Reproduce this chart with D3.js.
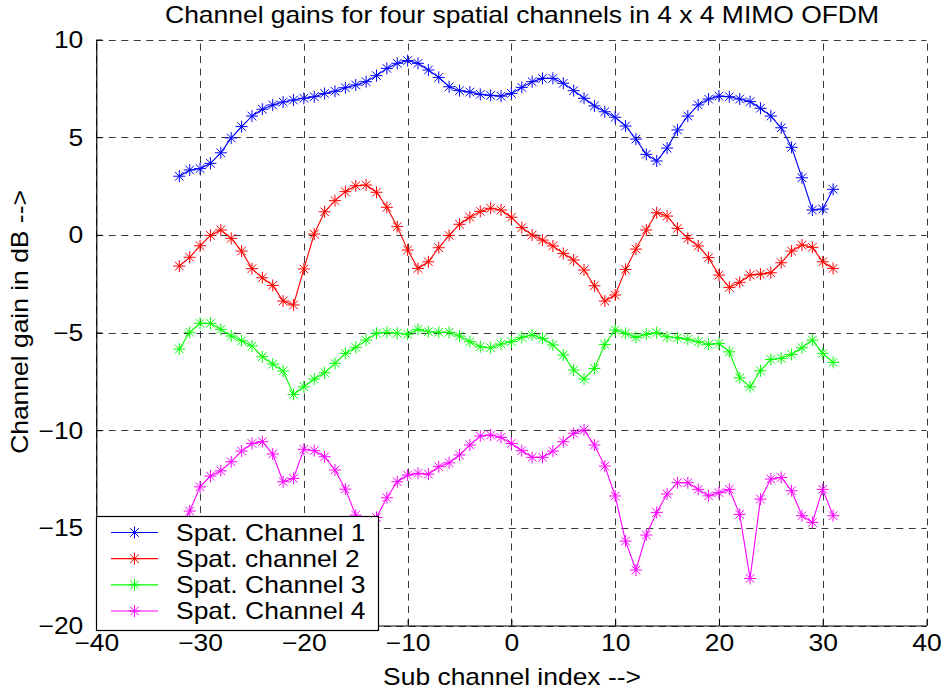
<!DOCTYPE html>
<html>
<head>
<meta charset="utf-8">
<script src="https://cdn.jsdelivr.net/npm/d3@7"></script>
<style>
  html, body { margin: 0; padding: 0; background: #fff; }
  svg { display: block; }
  text { font-family: "Liberation Sans", Arial, Helvetica, sans-serif; fill: #000; }
</style>
</head>
<body>
<svg id="chart" width="945" height="692"></svg>
<script>
// ---- data ----
const subchannels = [-32,-31,-30,-29,-28,-27,-26,-25,-24,-23,-22,-21,-20,-19,-18,-17,-16,-15,-14,-13,-12,-11,-10,-9,-8,-7,-6,-5,-4,-3,-2,-1,
  0,1,2,3,4,5,6,7,8,9,10,11,12,13,14,15,16,17,18,19,20,21,22,23,24,25,26,27,28,29,30,31];

const channel1 = [3.0,3.32,3.39,3.66,4.2,4.96,5.54,6.08,6.43,6.65,6.8,6.9,6.99,7.07,7.24,7.35,7.53,7.67,7.84,8.15,8.52,8.78,8.92,8.78,8.44,8.06,7.58,7.38,7.31,7.19,7.14,7.1,
  7.24,7.55,7.84,8.01,8.01,7.76,7.38,6.99,6.6,6.3,6.02,5.57,4.9,4.12,3.78,4.44,5.37,6.08,6.65,6.95,7.1,7.07,6.95,6.82,6.48,6.08,5.48,4.48,2.92,1.27,1.32,2.33];

const channel2 = [-1.6,-1.15,-0.56,-0.03,0.25,-0.18,-0.83,-1.73,-2.2,-2.59,-3.39,-3.59,-1.75,0.04,1.18,1.75,2.21,2.51,2.55,2.18,1.41,0.42,-0.78,-1.72,-1.38,-0.66,-0.03,0.54,0.9,1.2,1.36,1.27,
  0.9,0.37,-0.01,-0.27,-0.57,-0.95,-1.29,-1.8,-2.61,-3.39,-3.08,-1.77,-0.73,0.25,1.13,0.96,0.33,-0.18,-0.57,-1.17,-2.06,-2.69,-2.43,-2.06,-2.01,-1.94,-1.43,-0.83,-0.52,-0.64,-1.38,-1.72];

const channel3 = [-5.85,-4.99,-4.53,-4.53,-4.84,-5.18,-5.42,-5.69,-6.24,-6.62,-6.97,-8.17,-7.78,-7.38,-7.06,-6.58,-6.07,-5.76,-5.39,-5.04,-4.99,-5.04,-5.09,-4.84,-4.96,-4.99,-4.99,-5.18,-5.47,-5.73,-5.78,-5.59,
  -5.47,-5.25,-5.13,-5.3,-5.64,-6.15,-6.92,-7.38,-6.84,-5.61,-4.87,-5.04,-5.25,-5.09,-5.01,-5.22,-5.27,-5.35,-5.47,-5.61,-5.56,-5.99,-7.32,-7.78,-6.96,-6.38,-6.32,-6.12,-5.78,-5.39,-6.07,-6.53];

const channel4 = [-15.2,-14.14,-12.9,-12.35,-12.08,-11.62,-11.07,-10.68,-10.59,-11.22,-12.64,-12.47,-10.98,-11.05,-11.36,-12.04,-13.02,-14.35,-15.3,-14.47,-13.46,-12.64,-12.3,-12.21,-12.25,-11.87,-11.67,-11.27,-10.76,-10.3,-10.25,-10.37,
  -10.68,-11.05,-11.39,-11.39,-11.07,-10.59,-10.16,-9.99,-10.76,-11.84,-13.37,-15.68,-17.16,-15.37,-14.21,-13.27,-12.69,-12.69,-13.03,-13.36,-13.2,-13.03,-14.31,-17.59,-13.53,-12.5,-12.42,-13.1,-14.38,-14.72,-13.03,-14.38];

const seriesNames = ["Spat. Channel 1", "Spat. channel 2", "Spat. Channel 3", "Spat. Channel 4"];
const seriesColors = ["#0000ff", "#ff0000", "#00ff00", "#ff00ff"];
const xTicks = [-40,-30,-20,-10,0,10,20,30,40];
const yTicks = [-20,-15,-10,-5,0,5,10];
const titleText = "Channel gains for four spatial channels in 4 x 4 MIMO OFDM";
const xLabelText = "Sub channel index -->";
const yLabelText = "Channel gain in dB -->";

// ---- layout ----
const W = 945, H = 692;
const plot = { left: 96.3, right: 926.5, top: 39.5, bottom: 625.5 };
const SX = 1.15; // horizontal stretch of the text

const svg = d3.select("#chart");
svg.append("rect").attr("width", W).attr("height", H).attr("fill", "#fff");

const x = d3.scaleLinear().domain([-40, 40]).range([plot.left, plot.right]);
const y = d3.scaleLinear().domain([-20, 10]).range([plot.bottom, plot.top]);

// grid
const grid = svg.append("g").attr("stroke", "#3a3a3a").attr("stroke-width", 1)
  .attr("stroke-dasharray", "7,5.5").attr("fill", "none");
grid.selectAll("line.v").data(xTicks).join("line").attr("class", "v")
  .attr("x1", d => Math.round(x(d)) + 0.5).attr("x2", d => Math.round(x(d)) + 0.5)
  .attr("y1", plot.bottom).attr("y2", plot.top);
grid.selectAll("line.h").data(yTicks).join("line").attr("class", "h")
  .attr("y1", d => Math.round(y(d)) + 0.5).attr("y2", d => Math.round(y(d)) + 0.5)
  .attr("x1", plot.left).attr("x2", plot.right);

// series
const allSeries = [channel1, channel2, channel3, channel4];
const line = d3.line().x(d => x(d[0])).y(d => y(d[1]));
const star = "M-6,0H6M0,-6V6M-4.3,-4.3L4.3,4.3M-4.3,4.3L4.3,-4.3";

allSeries.forEach((vals, i) => {
  const pts = subchannels.map((s, k) => [s, vals[k]]);
  const g = svg.append("g");
  g.append("path").datum(pts).attr("d", line)
    .attr("fill", "none").attr("stroke", seriesColors[i]).attr("stroke-width", 1.1);
  g.selectAll("path.m").data(pts).join("path").attr("class", "m")
    .attr("d", star)
    .attr("transform", d => `translate(${x(d[0])},${y(d[1])})`)
    .attr("fill", "none").attr("stroke", seriesColors[i]).attr("stroke-width", 1);
});

// axes
const xAxis = d3.axisBottom(x).tickValues(xTicks).tickSizeInner(-6).tickSizeOuter(0).tickFormat(d3.format("d"));
const yAxis = d3.axisLeft(y).tickValues(yTicks).tickSizeInner(-6).tickSizeOuter(0).tickFormat(d3.format("d"));

const gx = svg.append("g").attr("transform", `translate(0,${plot.bottom})`).call(xAxis);
const gy = svg.append("g").attr("transform", `translate(${plot.left},0)`).call(yAxis);
[gx, gy].forEach(g => {
  g.select(".domain").attr("stroke", "#000").attr("stroke-width", 1.2);
  g.selectAll(".tick line").attr("stroke", "#000");
  g.selectAll("text").attr("font-size", 23).attr("fill", "#000")
    .attr("font-family", '"Liberation Sans", Arial, sans-serif');
});
gx.selectAll("text").attr("y", 26).attr("dy", 0).attr("transform", `scale(${SX},1)`);
gy.selectAll("text").attr("x", -13 / SX).attr("dy", "0.35em").attr("transform", `scale(${SX},1)`);

// text helper with horizontal stretch
function stretchedText(parent, tx, ty, str, size, anchor, rotate) {
  const g = parent.append("g").attr("transform", `translate(${tx},${ty})${rotate ? ` rotate(${rotate})` : ""} scale(${SX},1)`);
  return g.append("text").attr("x", 0).attr("y", 0).attr("font-size", size)
    .attr("text-anchor", anchor).text(str);
}

stretchedText(svg, 522, 23, titleText, 23, "middle");
stretchedText(svg, 512, 685, xLabelText, 23, "middle");
stretchedText(svg, 28, 322, yLabelText, 23, "middle", -90);

// legend
const leg = svg.append("g");
leg.append("rect").attr("x", 96.5).attr("y", 516.5).attr("width", 282).attr("height", 114)
  .attr("fill", "#fff").attr("stroke", "#000").attr("stroke-width", 1.2);
const legY = d3.scalePoint().domain(seriesNames).range([532.5, 611]);
seriesNames.forEach((name, i) => {
  const cy = legY(name);
  leg.append("line").attr("x1", 111).attr("x2", 158).attr("y1", cy).attr("y2", cy)
    .attr("stroke", seriesColors[i]).attr("stroke-width", 1.1);
  leg.append("path").attr("d", star).attr("transform", `translate(134.5,${cy})`)
    .attr("fill", "none").attr("stroke", seriesColors[i]).attr("stroke-width", 1);
  stretchedText(leg, 176, cy + 8, name, 23, "start");
});
</script>
</body>
</html>
